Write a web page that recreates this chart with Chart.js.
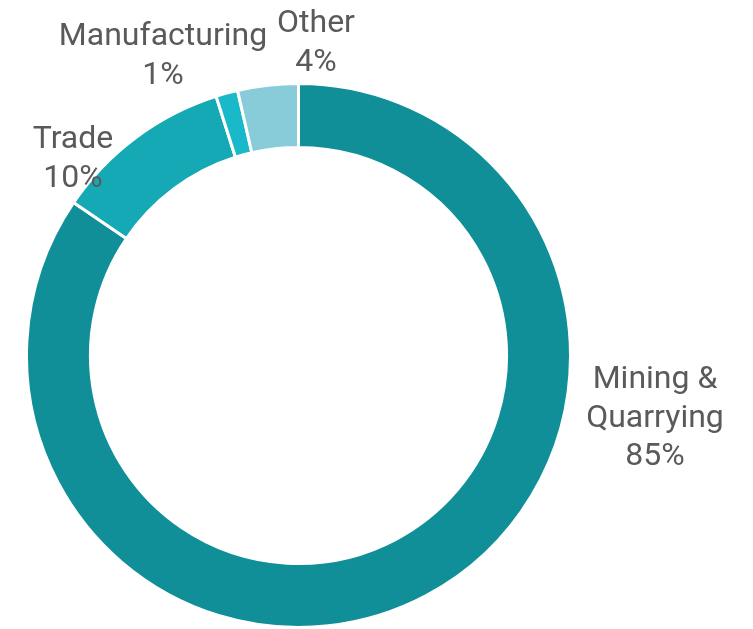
<!DOCTYPE html>
<html lang="en">
<head>
    <meta charset="UTF-8">
    <title>Sector shares</title>
    <script src="https://cdn.jsdelivr.net/npm/chart.js"></script>
    <style>
        html, body { margin: 0; padding: 0; background: #ffffff; }
        .chart-container { width: 753px; height: 629px; position: relative; }
    </style>
</head>
<body>
    <div class="chart-container">
        <canvas id="sectorChart"></canvas>
    </div>
    <script>
        // Data (clockwise from 12 o'clock)
        const sectors = ['Mining & Quarrying', 'Trade', 'Manufacturing', 'Other'];
        const shares = [84.5, 10.6, 1.3, 3.6];
        const shareLabels = ['85%', '10%', '1%', '4%'];
        const sectorColors = ['#108f98', '#14a9b5', '#1ab9c9', '#87ccd8'];

        // label text lines and where to put them (centre x, first baseline y)
        const labelLines = [
            ['Mining &', 'Quarrying', shareLabels[0]],
            ['Trade', shareLabels[1]],
            ['Manufacturing', shareLabels[2]],
            ['Other', shareLabels[3]]
        ];
        const labelSpots = [
            { x: 655, y: 388 },
            { x: 73, y: 148 },
            { x: 163, y: 45 },
            { x: 316, y: 32 }
        ];

        const outsideLabels = {
            id: 'outsideLabels',
            afterDatasetsDraw(chart) {
                const ctx = chart.ctx;
                ctx.save();
                ctx.font = '32px Roboto';
                ctx.fillStyle = '#5a5a5a';
                ctx.textAlign = 'center';
                ctx.textBaseline = 'alphabetic';
                labelLines.forEach((lines, i) => {
                    const spot = labelSpots[i];
                    lines.forEach((line, j) => {
                        ctx.fillText(line, spot.x, spot.y + j * 38.5);
                    });
                });
                ctx.restore();
            }
        };

        const ctx = document.getElementById('sectorChart').getContext('2d');
        new Chart(ctx, {
            type: 'doughnut',
            data: {
                labels: sectors,
                datasets: [{
                    data: shares,
                    backgroundColor: sectorColors,
                    borderColor: '#ffffff',
                    borderWidth: 3
                }]
            },
            options: {
                responsive: true,
                maintainAspectRatio: false,
                animation: false,
                cutout: '76.5%',
                layout: {
                    padding: { left: 25, right: 181, top: 82, bottom: 0 }
                },
                plugins: {
                    legend: { display: false },
                    tooltip: { enabled: false }
                }
            },
            plugins: [outsideLabels]
        });
    </script>
</body>
</html>
